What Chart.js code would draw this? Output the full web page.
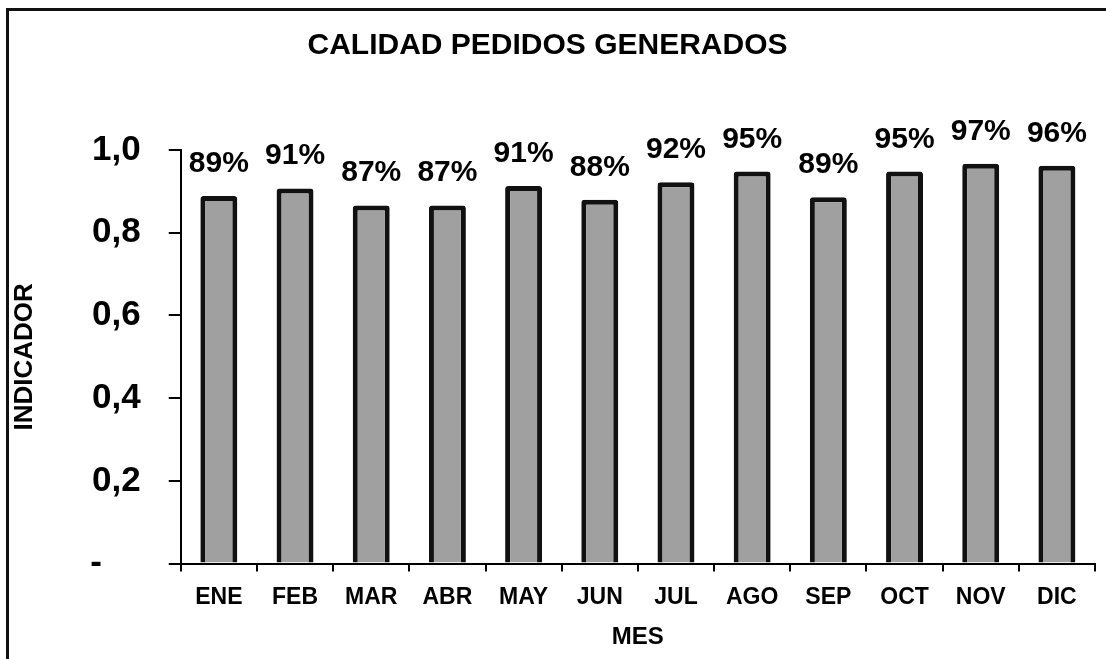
<!DOCTYPE html>
<html>
<head>
<meta charset="utf-8">
<script src="https://cdn.jsdelivr.net/npm/chart.js@4/dist/chart.umd.min.js"></script>
<style>
  html, body { margin: 0; padding: 0; background: #fff; overflow: hidden; }
  #wrap { position: relative; width: 1106px; height: 659px; }
  #frame { position: absolute; left: 6px; top: 8px; width: 1200px; height: 800px; border: 3px solid #111; }
  #canvas1 { position: absolute; left: 0; top: 0; }
</style>
</head>
<body>
<div id="wrap">
  <div id="frame"></div>
  <canvas id="canvas1" width="1106" height="659"></canvas>
</div>
<script>
const meses = ['ENE', 'FEB', 'MAR', 'ABR', 'MAY', 'JUN', 'JUL', 'AGO', 'SEP', 'OCT', 'NOV', 'DIC'];
const indicador = [0.889, 0.907, 0.866, 0.866, 0.913, 0.88, 0.922, 0.948, 0.886, 0.948, 0.967, 0.962];
const yTickLabels = ['-    ', '0,2', '0,4', '0,6', '0,8', '1,0'];

const FONT = '"Liberation Sans", Arial, sans-serif';

// percent labels over each bar
const barLabels = {
  id: 'barLabels',
  afterDatasetsDraw(chart) {
    const ctx = chart.ctx;
    const meta = chart.getDatasetMeta(0);
    ctx.save();
    ctx.font = 'bold 30px ' + FONT;
    ctx.fillStyle = '#000';
    ctx.textAlign = 'center';
    ctx.textBaseline = 'alphabetic';
    meta.data.forEach((bar, i) => {
      const txt = Math.round(indicador[i] * 100) + '%';
      ctx.fillText(txt, bar.x, bar.y - 24);
    });
    ctx.restore();
  }
};

window.addEventListener("load", () => {
  const canvas1 = document.getElementById('canvas1');

  new Chart(canvas1, {
    type: 'bar',
    data: {
      labels: meses,
      datasets: [{
        label: 'Indicador',
        data: indicador,
        backgroundColor: '#a0a0a0',
        borderColor: '#111',
        borderWidth: 5,
        borderRadius: 3,
        categoryPercentage: 1,
        barPercentage: 0.485,
      }]
    },
    options: {
      responsive: false,
      animation: false,
      layout: { padding: { left: 0, right: 11, top: 0, bottom: 0 } },
      plugins: {
        legend: { display: false },
        tooltip: { enabled: false },
        title: {
          display: true,
          text: 'CALIDAD PEDIDOS GENERADOS',
          color: '#000',
          font: { family: FONT, size: 30, weight: 'bold', lineHeight: 1.2 },
          padding: { top: 28, bottom: 86 }
        }
      },
      scales: {
        x: {
          grid: { offset: true, drawOnChartArea: false, tickLength: 8, color: '#000', lineWidth: 2 },
          border: { display: true, color: '#000', width: 2 },
          ticks: { color: '#000', padding: 12, maxRotation: 0, font: { family: FONT, size: 23, weight: 'bold' } },
          title: {
            display: true,
            text: 'MES',
            color: '#000',
            font: { family: FONT, size: 24, weight: 'bold', lineHeight: 1.2 },
            padding: { top: 0, bottom: 7 }
          }
        },
        y: {
          min: 0,
          max: 1,
          grid: { drawOnChartArea: false, tickLength: 12, color: '#000', lineWidth: 2 },
          border: { display: true, color: '#000', width: 2 },
          ticks: {
            stepSize: 0.2,
            padding: 28,
            color: '#000',
            font: { family: FONT, size: 35, weight: 'bold' },
            callback: (value, index) => yTickLabels[index]
          },
          title: {
            display: true,
            text: 'INDICADOR',
            color: '#000',
            font: { family: FONT, size: 26, weight: 'bold', lineHeight: 1.2 },
            padding: { top: 9, bottom: 22 }
          }
        }
      }
    },
    plugins: [barLabels]
  });
});
</script>
</body>
</html>
